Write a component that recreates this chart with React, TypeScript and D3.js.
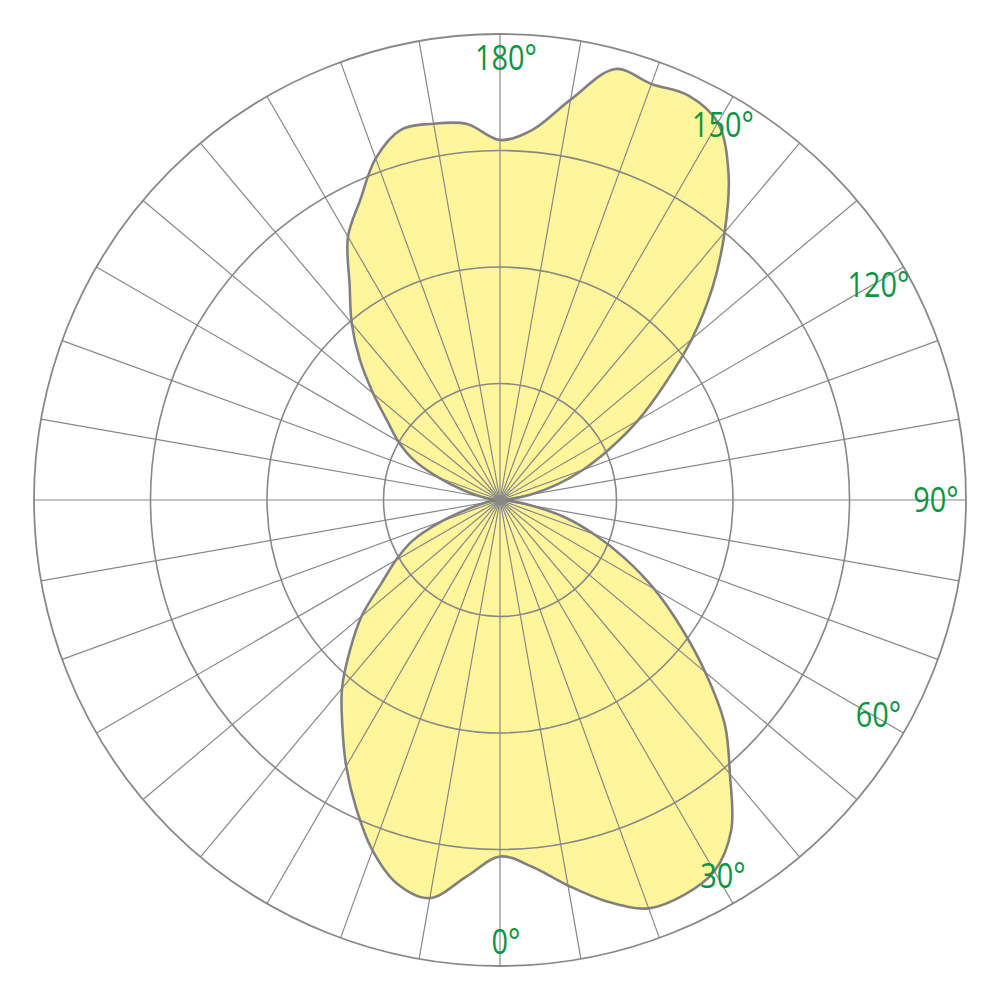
import React from "react";
import * as d3 from "d3";

// Polar angle in degrees: 0 = down, 90 = right, 180 = up, 270 = left
const angles: number[] = d3.range(0, 360, 5);
// Luminous intensity values (ring scale 0..400)
const intensity: number[] = [
  306, 316, 336, 357, 373, 374, 368, 346, 307, 273, 230, 189, 153, 118, 86, 58, 28, 10,
  2, 10, 27, 50, 76, 104, 137, 172, 215, 258, 300, 342, 374, 383, 380, 383, 349, 319,
  309, 324, 328, 329, 312, 284, 261, 225, 198, 170, 142, 118, 101, 82, 56, 33, 17, 7,
  2, 5, 13, 26, 53, 83, 103, 124, 155, 182, 211, 236, 264, 292, 320, 341, 347, 324,
];
const ringValues: number[] = [100, 200, 300, 400];
const spokeAngles: number[] = d3.range(0, 360, 10);
const labelAngles: number[] = [0, 30, 60, 90, 120, 150, 180];
const labelTexts: string[] = ["0", "30", "60", "90", "120", "150", "180"];

export default function App() {
  const W = 1000;
  const H = 1000;
  const cx = 500;
  const cy = 500;
  const R = 466;
  const r = d3.scaleLinear().domain([0, 400]).range([0, R]);
  const toRad = (deg: number) => Math.PI - (deg * Math.PI) / 180;

  const pts = angles.map((a, i) => ({ a, v: intensity[i] }));
  const line = d3
    .lineRadial<{ a: number; v: number }>()
    .angle((d) => toRad(d.a))
    .radius((d) => r(d.v))
    .curve(d3.curveCatmullRomClosed.alpha(0.5));
  const path = line(pts) || "";

  const grid = "#888888";
  return (
    <svg
      width={W}
      height={H}
      style={{ position: "absolute", left: 0, top: 0, background: "#ffffff" }}
    >
      <g transform={`translate(${cx},${cy})`}>
        <path d={path} fill="#FFF59B" stroke="none" />
        {spokeAngles.map((a) => {
          const t = (a * Math.PI) / 180;
          return (
            <line
              key={a}
              x1={0}
              y1={0}
              x2={R * Math.sin(t)}
              y2={R * Math.cos(t)}
              stroke={grid}
              strokeWidth={1.2}
            />
          );
        })}
        {ringValues.map((v) => (
          <circle key={v} r={r(v)} fill="none" stroke={grid} strokeWidth={v === 400 ? 1.8 : 1.6} />
        ))}
        <path d={path} fill="none" stroke="#808080" strokeWidth={2.6} strokeLinejoin="round" />
        <circle r={5} fill={grid} />
        {labelAngles.map((a, i) => {
          const t = (a * Math.PI) / 180;
          const lr = 430 + 12 * Math.pow(Math.abs(Math.cos(t)), 8);
          return (
            <g
              key={a}
              transform={`translate(${lr * Math.sin(t) + 6},${lr * Math.cos(t)}) scale(0.85,1)`}
            >
              <text
                dy="0.36em"
                textAnchor="middle"
                fill="#0A9444"
                fontFamily="'Open Sans', 'Noto Sans', sans-serif"
                fontSize={34}
              >
                {labelTexts[i] + "°"}
              </text>
            </g>
          );
        })}
      </g>
    </svg>
  );
}
